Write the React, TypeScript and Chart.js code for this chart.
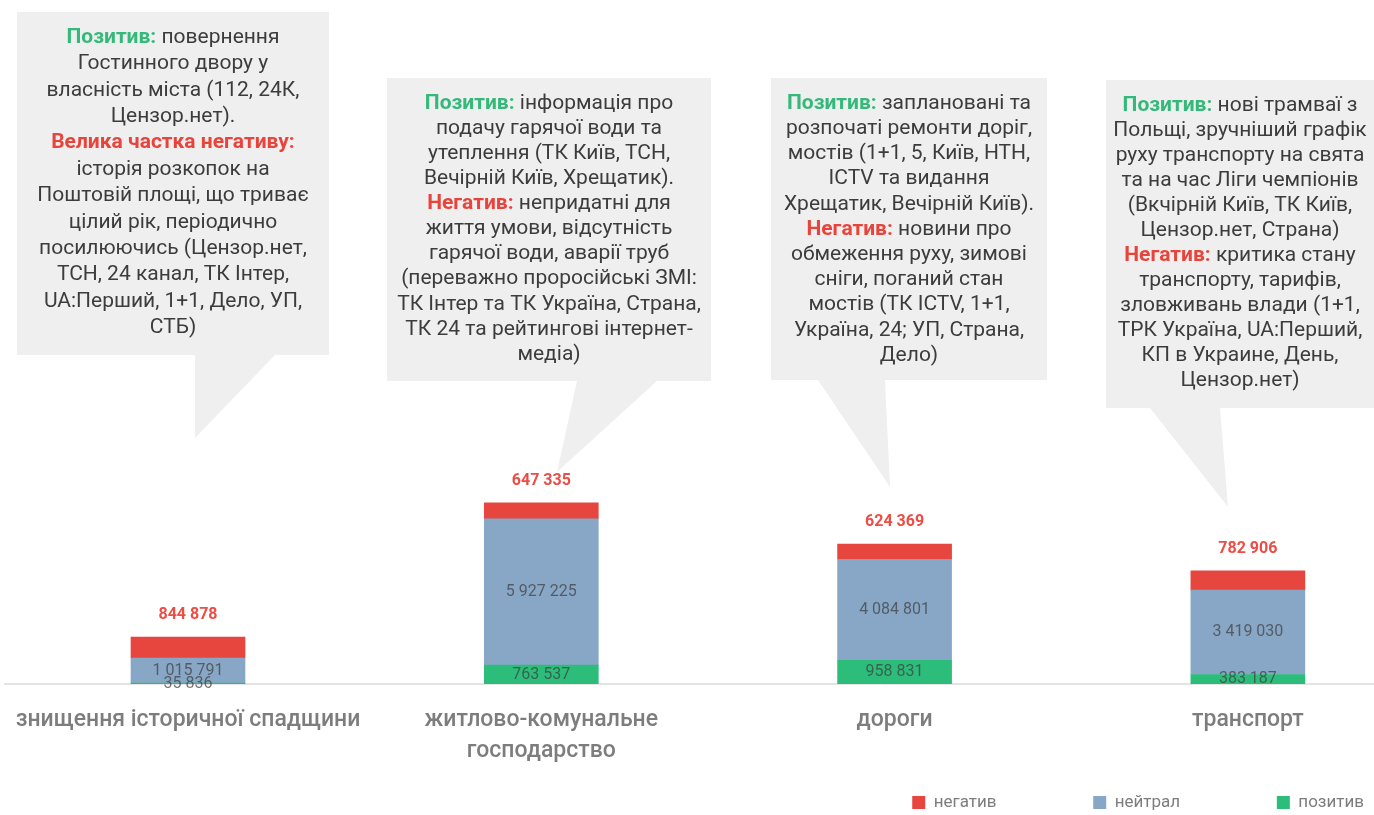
import { useEffect, useRef } from "react";
import { Chart, registerables } from "chart.js";

Chart.register(...registerables);

// Categories (multi-line labels are arrays of lines)
const categories: string[][] = [
  ["знищення історичної спадщини"],
  ["житлово-комунальне", "господарство"],
  ["дороги"],
  ["транспорт"],
];

const seriesNames = ["позитив", "нейтрал", "негатив"];
const positiveValues = [35836, 763537, 958831, 383187];
const neutralValues = [1015791, 5927225, 4084801, 3419030];
const negativeValues = [844878, 647335, 624369, 782906];

// Note texts: a segment is plain text, or a coloured heading
type Seg = string | { pos: string } | { neg: string };

const noteHeritage: Seg[][] = [
  [{ pos: "Позитив:" }, " повернення"],
  ["Гостинного двору у"],
  ["власність міста (112, 24К,"],
  ["Цензор.нет)."],
  [{ neg: "Велика частка негативу:" }],
  ["історія розкопок на"],
  ["Поштовій площі, що триває"],
  ["цілий рік, періодично"],
  ["посилюючись (Цензор.нет,"],
  ["ТСН, 24 канал, ТК Інтер,"],
  ["UA:Перший, 1+1, Дело, УП,"],
  ["СТБ)"],
];

const noteHousing: Seg[][] = [
  [{ pos: "Позитив:" }, " інформація про"],
  ["подачу гарячої води та"],
  ["утеплення (ТК Київ, ТСН,"],
  ["Вечірній Київ, Хрещатик)."],
  [{ neg: "Негатив:" }, " непридатні для"],
  ["життя умови, відсутність"],
  ["гарячої води, аварії труб"],
  ["(переважно проросійські ЗМІ:"],
  ["ТК Інтер та ТК Україна, Страна,"],
  ["ТК 24 та рейтингові інтернет-"],
  ["медіа)"],
];

const noteRoads: Seg[][] = [
  [{ pos: "Позитив:" }, " заплановані та"],
  ["розпочаті ремонти доріг,"],
  ["мостів (1+1, 5, Київ, НТН,"],
  ["ICTV та видання"],
  ["Хрещатик, Вечірній Київ)."],
  [{ neg: "Негатив:" }, " новини про"],
  ["обмеження руху, зимові"],
  ["сніги, поганий стан"],
  ["мостів (ТК ICTV, 1+1,"],
  ["Україна, 24; УП, Страна,"],
  ["Дело)"],
];

const noteTransport: Seg[][] = [
  [{ pos: "Позитив:" }, " нові трамваї з"],
  ["Польщі, зручніший графік"],
  ["руху транспорту на свята"],
  ["та на час Ліги чемпіонів"],
  ["(Вкчірній Київ, ТК Київ,"],
  ["Цензор.нет, Страна)"],
  [{ neg: "Негатив:" }, " критика стану"],
  ["транспорту, тарифів,"],
  ["зловживань влади (1+1,"],
  ["ТРК Україна, UA:Перший,"],
  ["КП в Украине, День,"],
  ["Цензор.нет)"],
];

const notes = [noteHeritage, noteHousing, noteRoads, noteTransport];

// Speech-bubble frames for the notes (canvas pixels)
const NOTE_FRAMES = [
  { left: 17, top: 12, right: 329, bottom: 355, tailFrom: 195, tailTo: 275, tipX: 195, tipY: 438, first: 25.5, gap: 26.4 },
  { left: 387, top: 78, right: 711, bottom: 381, tailFrom: 577, tailTo: 657, tipX: 557, tipY: 472, first: 25.5, gap: 25.1 },
  { left: 771, top: 78, right: 1047, bottom: 380, tailFrom: 818, tailTo: 885, tipX: 890, tipY: 487, first: 25.5, gap: 25.2 },
  { left: 1106, top: 80, right: 1374, bottom: 408, tailFrom: 1150, tailTo: 1220, tipX: 1228, tipY: 507, first: 26, gap: 25.0 },
];

const COLORS = {
  positive: "#2dbd7b",
  neutral: "#88a7c6",
  negative: "#e6463e",
  noteBg: "#efefef",
  noteText: "#3c3c3c",
  notePos: "#35b97b",
  noteNeg: "#e8443b",
  axisText: "#7d7d7d",
};

const FONT = "Roboto, 'Noto Sans', sans-serif";
const NOTE_SIZE = 21;

const fmt = (v: number) => String(v).replace(/\B(?=(\d{3})+(?!\d))/g, " ");

const notesPlugin = {
  id: "notes",
  beforeDatasetsDraw(chart: any) {
    const ctx: CanvasRenderingContext2D = chart.ctx;
    notes.forEach((lines, n) => {
      const f = NOTE_FRAMES[n];
      ctx.save();
      ctx.fillStyle = COLORS.noteBg;
      ctx.beginPath();
      ctx.moveTo(f.left, f.top);
      ctx.lineTo(f.right, f.top);
      ctx.lineTo(f.right, f.bottom);
      ctx.lineTo(f.tailTo, f.bottom);
      ctx.lineTo(f.tipX, f.tipY);
      ctx.lineTo(f.tailFrom, f.bottom);
      ctx.lineTo(f.left, f.bottom);
      ctx.closePath();
      ctx.fill();

      const cx = (f.left + f.right) / 2;
      ctx.textAlign = "left";
      ctx.textBaseline = "middle";
      lines.forEach((line, li) => {
        const y = f.top + f.first + li * f.gap;
        const parts = line.map((seg) => {
          if (typeof seg === "string") return { text: seg, font: `${NOTE_SIZE}px ${FONT}`, color: COLORS.noteText, w: 0 };
          if ("pos" in seg) return { text: seg.pos, font: `bold ${NOTE_SIZE}px ${FONT}`, color: COLORS.notePos, w: 0 };
          return { text: seg.neg, font: `bold ${NOTE_SIZE}px ${FONT}`, color: COLORS.noteNeg, w: 0 };
        });
        let total = 0;
        parts.forEach((p) => {
          ctx.font = p.font;
          p.w = ctx.measureText(p.text).width;
          total += p.w;
        });
        let x = cx - total / 2;
        parts.forEach((p) => {
          ctx.font = p.font;
          ctx.fillStyle = p.color;
          ctx.fillText(p.text, x, y);
          x += p.w;
        });
      });
      ctx.restore();
    });
  },
};

const valueLabelsPlugin = {
  id: "valueLabels",
  afterDatasetsDraw(chart: any) {
    const ctx: CanvasRenderingContext2D = chart.ctx;
    const last = chart.data.datasets.length - 1;
    chart.data.datasets.forEach((ds: any, di: number) => {
      const meta = chart.getDatasetMeta(di);
      meta.data.forEach((el: any, i: number) => {
        const value = ds.data[i].y;
        const { x, y, base } = el.getProps(["x", "y", "base"], true);
        ctx.save();
        ctx.textAlign = "center";
        ctx.textBaseline = "middle";
        if (di === last) {
          ctx.font = `bold 16px ${FONT}`;
          ctx.fillStyle = "#ec4d45";
          ctx.fillText(fmt(value), x, y - 22);
        } else {
          ctx.font = `16px ${FONT}`;
          ctx.fillStyle = "rgba(60,60,60,0.7)";
          ctx.fillText(fmt(value), x, (y + base) / 2);
        }
        ctx.restore();
      });
    });
  },
};

export default function App() {
  const canvasRef = useRef<HTMLCanvasElement | null>(null);

  useEffect(() => {
    const canvas = canvasRef.current;
    if (!canvas) return;
    const toPoints = (arr: number[]) => arr.map((v, i) => ({ x: i, y: v }));
    const chart = new Chart(canvas, {
      type: "bar",
      data: {
        datasets: [
          { label: seriesNames[0], data: toPoints(positiveValues), backgroundColor: COLORS.positive },
          { label: seriesNames[1], data: toPoints(neutralValues), backgroundColor: COLORS.neutral },
          { label: seriesNames[2], data: toPoints(negativeValues), backgroundColor: COLORS.negative },
        ] as any,
      },
      options: {
        responsive: false,
        animation: false,
        layout: { padding: { left: 5, right: 0, top: 0, bottom: -6 } },
        datasets: { bar: { barThickness: 114 } },
        scales: {
          x: {
            type: "linear",
            stacked: true,
            offset: false,
            min: -0.518,
            max: 3.357,
            afterBuildTicks: (scale: any) => {
              scale.ticks = categories.map((_, i) => ({ value: i }));
            },
            afterFit: (scale: any) => {
              scale.height = 100;
              scale.paddingLeft = 0;
              scale.paddingRight = 0;
            },
            grid: { display: false, drawTicks: false, offset: false },
            border: { display: true, color: "#e4e4e4", width: 2 },
            ticks: {
              padding: 21,
              autoSkip: false,
              maxRotation: 0,
              color: COLORS.axisText,
              font: { family: FONT, size: 23, weight: "500", lineHeight: 1.35 },
              callback: (v: any) => categories[v] ?? "",
            },
          },
          y: { display: false, stacked: true, min: 0, max: 27700000 },
        },
        plugins: {
          tooltip: { enabled: false },
          legend: {
            position: "bottom",
            align: "end",
            reverse: true,
            labels: {
              boxWidth: 13,
              boxHeight: 13,
              padding: 10,
              color: COLORS.axisText,
              font: { family: FONT, size: 17 },
              generateLabels: (c: any) =>
                (Chart.defaults.plugins.legend.labels as any).generateLabels(c).map((item: any) => ({
                  ...item,
                  text: item.datasetIndex === 0 ? item.text : item.text + "\u2003".repeat(5),
                })),
            },
          },
        },
      } as any,
      plugins: [notesPlugin, valueLabelsPlugin],
    });
    return () => chart.destroy();
  }, []);

  return (
    <div style={{ position: "absolute", left: 0, top: 0, width: 1374, height: 815, background: "#fff" }}>
      <canvas ref={canvasRef} width={1374} height={815} style={{ display: "block" }} />
    </div>
  );
}
